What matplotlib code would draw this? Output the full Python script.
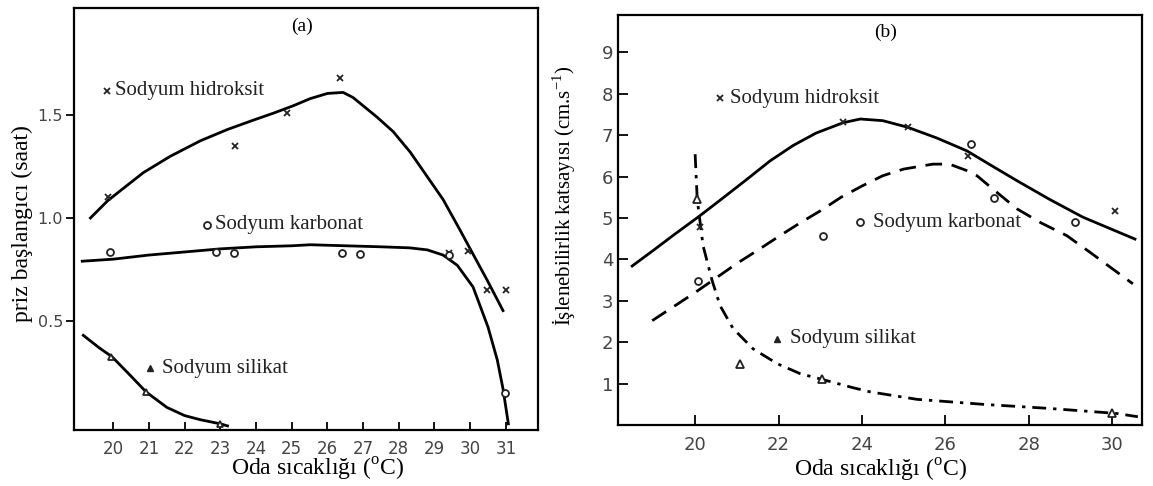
import matplotlib.pyplot as plt

plt.rcParams["mathtext.fontset"] = "custom"
plt.rcParams["mathtext.rm"] = "Liberation Serif"

SERIF = "Liberation Serif"
TICKFONT = "DejaVu Sans"

# (a) priz baslangici
a_hid_x = [19.85, 23.42, 24.87, 26.36, 29.41, 29.94, 30.47, 31.0]
a_hid_y = [1.10, 1.35, 1.51, 1.68, 0.83, 0.84, 0.65, 0.65]
a_hid_line_x = [19.36, 19.85, 20.4, 20.84, 21.6, 22.44, 23.2, 23.92, 24.5, 25.04, 25.52, 26.0,
                26.44, 26.72, 27.39, 27.84, 28.32, 28.8, 29.24, 29.72, 30.0, 30.47, 30.92]
a_hid_line_y = [1.0, 1.085, 1.16, 1.22, 1.30, 1.375, 1.43, 1.475, 1.51, 1.545, 1.58, 1.605,
                1.61, 1.585, 1.49, 1.42, 1.32, 1.2, 1.09, 0.94, 0.85, 0.70, 0.55]

a_kar_x = [19.92, 22.88, 23.39, 26.41, 26.92, 29.41, 30.98]
a_kar_y = [0.835, 0.835, 0.83, 0.83, 0.825, 0.82, 0.15]
a_kar_line_x = [19.13, 20.0, 21.0, 22.0, 23.0, 24.0, 25.0, 25.52, 26.5, 27.5, 28.3,
                28.8, 29.24, 29.64, 30.08, 30.5, 30.76, 30.92, 31.07]
a_kar_line_y = [0.79, 0.80, 0.82, 0.835, 0.85, 0.86, 0.865, 0.87, 0.865, 0.86, 0.855,
                0.845, 0.82, 0.77, 0.665, 0.47, 0.31, 0.17, 0.0]

a_sil_x = [19.95, 20.92, 23.0]
a_sil_y = [0.325, 0.155, 0.0]
a_sil_line_x = [19.16, 19.6, 19.97, 20.45, 20.92, 21.5, 22.0, 22.44, 23.0, 23.2]
a_sil_line_y = [0.43, 0.37, 0.325, 0.24, 0.155, 0.08, 0.04, 0.02, 0.0, -0.01]

# (b) islenebilirlik katsayisi
b_hid_x = [20.12, 23.55, 25.1, 26.55, 30.07]
b_hid_y = [4.78, 7.31, 7.19, 6.5, 5.17]
b_hid_line_x = [18.49, 19.0, 19.5, 20.07, 20.6, 21.25, 21.8, 22.35, 22.9, 23.55, 23.96,
                24.5, 25.1, 25.8, 26.52, 27.1, 27.72, 28.5, 29.3, 30.55]
b_hid_line_y = [3.84, 4.22, 4.6, 5.02, 5.43, 5.94, 6.38, 6.75, 7.05, 7.3, 7.39,
                7.35, 7.19, 6.93, 6.62, 6.27, 5.9, 5.45, 5.02, 4.49]

b_kar_x = [20.07, 23.07, 26.62, 27.17, 29.11]
b_kar_y = [3.48, 4.57, 6.78, 5.48, 4.9]
b_kar_line_x = [18.97, 19.5, 20.0, 20.5, 21.0, 21.5, 22.0, 22.5, 23.0, 23.5, 24.0, 24.5,
                25.0, 25.7, 26.1, 26.5, 26.76, 27.2, 27.72, 28.3, 28.92, 29.5, 30.0, 30.5]
b_kar_line_y = [2.52, 2.87, 3.2, 3.55, 3.9, 4.22, 4.55, 4.87, 5.17, 5.5, 5.77, 6.02,
                6.18, 6.3, 6.3, 6.15, 6.02, 5.65, 5.22, 4.88, 4.57, 4.15, 3.78, 3.41]

b_sil_x = [20.05, 21.08, 23.05, 30.0]
b_sil_y = [5.45, 1.48, 1.1, 0.28]
b_sil_line_x = [20.0, 20.05, 20.19, 20.41, 20.6, 20.91, 21.39, 21.97, 22.52, 23.05, 23.79,
                24.2, 25.32, 26.9, 28.5, 30.1, 30.62]
b_sil_line_y = [6.54, 5.45, 4.33, 3.48, 2.88, 2.33, 1.84, 1.48, 1.24, 1.1, 0.9,
                0.8, 0.62, 0.5, 0.4, 0.28, 0.2]

names = ["Sodyum hidroksit", "Sodyum karbonat", "Sodyum silikat"]
xlabel = "Oda sıcaklığı ($^{\\mathrm{o}}$C)"

fig = plt.figure(figsize=(11.53, 4.86), dpi=100)
axa = fig.add_axes([0.0642, 0.1152, 0.4024, 0.8683])
axb = fig.add_axes([0.536, 0.1255, 0.4545, 0.8435])

lw = 2.0
mk = dict(color="#222222", linestyle="none", markersize=5, markeredgewidth=1.3)

# ---- (a)
axa.plot(a_hid_line_x, a_hid_line_y, color="black", lw=lw)
axa.plot(a_kar_line_x, a_kar_line_y, color="black", lw=lw)
axa.plot(a_sil_line_x, a_sil_line_y, color="black", lw=lw)
axa.plot(a_hid_x, a_hid_y, marker="x", **mk)
axa.plot(a_kar_x, a_kar_y, marker="o", mfc="white", **mk)
axa.plot(a_sil_x, a_sil_y, marker="^", mfc="white", **mk)

axa.set_xlim(18.9, 31.9)
axa.set_ylim(-0.03, 2.02)
axa.set_xticks(range(20, 32))
axa.set_yticks([0.5, 1.0, 1.5])
axa.tick_params(axis="x", direction="in", length=6, width=1.3, pad=7,
                labelsize=12, labelcolor="#444444")
axa.tick_params(axis="y", direction="out", length=6, width=1.3, pad=2,
                labelsize=11.5, labelcolor="#444444")
axa.set_xlabel(xlabel, family=SERIF, fontsize=17, labelpad=2)
axa.set_ylabel("priz başlangıcı (saat)", family=SERIF, fontsize=17)
axa.yaxis.set_label_coords(-0.088, 0.49)
axa.xaxis.set_label_coords(0.525, -0.062)

axa.plot([19.83], [1.617], marker="x", **mk)
axa.text(20.06, 1.617, names[0], family=SERIF, fontsize=15, va="center", color="#222222")
axa.plot([22.63], [0.966], marker="o", mfc="white", **mk)
axa.text(22.86, 0.966, names[1], family=SERIF, fontsize=15, va="center", color="#222222")
axa.plot([21.03], [0.27], marker="^", color="#222222", linestyle="none", markersize=5)
axa.text(21.37, 0.27, names[2], family=SERIF, fontsize=15, va="center", color="#222222")
axa.text(25.3, 1.93, "(a)", family=SERIF, fontsize=14, ha="center", va="center")

# ---- (b)
axb.plot(b_hid_line_x, b_hid_line_y, color="black", lw=lw)
axb.plot(b_kar_line_x, b_kar_line_y, color="black", lw=lw, dashes=(6, 3.5))
axb.plot(b_sil_line_x, b_sil_line_y, color="black", lw=lw, dashes=(5, 2.5, 1.2, 2.5))
axb.plot(b_hid_x, b_hid_y, marker="x", **mk)
axb.plot(b_kar_x, b_kar_y, marker="o", mfc="white", **mk)
axb.plot(b_sil_x, b_sil_y, marker="^", mfc="white", markersize=6,
         color="#222222", linestyle="none", markeredgewidth=1.3)

axb.set_xlim(18.15, 30.72)
axb.set_ylim(0, 9.9)
axb.set_xticks([20, 22, 24, 26, 28, 30])
axb.set_yticks(range(1, 10))
axb.tick_params(axis="both", direction="in", length=7, width=1.3,
                labelsize=13, labelcolor="#444444")
axb.tick_params(axis="x", pad=8)
axb.set_xlabel(xlabel, family=SERIF, fontsize=17, labelpad=2)
axb.set_ylabel("İşlenebilirlik katsayısı (cm.s$^{\\mathrm{-1}}$)", family=SERIF,
               fontsize=15)
axb.yaxis.set_label_coords(-0.076, 0.56)

axb.plot([20.6], [7.89], marker="x", **mk)
axb.text(20.84, 7.89, names[0], family=SERIF, fontsize=15, va="center", color="#222222")
axb.plot([23.96], [4.9], marker="o", mfc="white", **mk)
axb.text(24.27, 4.9, names[1], family=SERIF, fontsize=15, va="center", color="#222222")
axb.plot([21.97], [2.08], marker="^", color="#222222", linestyle="none", markersize=5)
axb.text(22.28, 2.08, names[2], family=SERIF, fontsize=15, va="center", color="#222222")
axb.text(24.56, 9.48, "(b)", family=SERIF, fontsize=14, ha="center", va="center")

for ax in (axa, axb):
    for s in ax.spines.values():
        s.set_linewidth(1.6)
    for lab in ax.get_xticklabels() + ax.get_yticklabels():
        lab.set_family(TICKFONT)

fig.savefig("out.png", dpi=100)
